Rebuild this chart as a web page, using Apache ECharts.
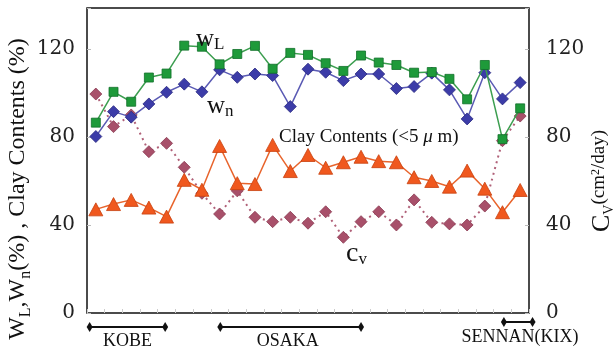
<!DOCTYPE html>
<html><head><meta charset="utf-8">
<script src="https://cdn.jsdelivr.net/npm/echarts/dist/echarts.min.js"></script>
<style>html,body{margin:0;padding:0;background:#fff}#c{width:614px;height:351px}</style>
</head><body><div id="c"></div>
<script>
const categories = ['1','2','3','4','5','6','7','8','9','10','11','12','13','14','15','16','17','18','19','20','21','22','23','24','25'];
const wL = [86.5,100.5,96,107,108.8,121.5,121,113,117.7,121.4,111,118.2,117.3,113.5,110,117,113.8,112.7,109.2,109.5,106.4,97.1,112.7,79,93];
const wn = [80.2,91.5,89,95,100.3,104,100.5,110.5,107.1,108.6,107.9,93.8,110.8,109.4,105.6,108.6,108.6,102,102.9,109,101.4,88.2,109.2,97.3,104.7];
const clay = [47.1,49.5,51.4,47.9,43.8,60.5,56,75.9,59,58.6,76.4,64.5,71.8,66,68.5,71,69,68.5,61.7,60,57.4,64.7,56.5,45.8,55.9];
const cv = [99.5,84.7,90,73.3,77.1,66.2,54.4,45,55.5,43.5,41.5,43.5,40.8,46,34.4,41.5,46,40,51.4,41.2,40.5,40,48.6,78.3,89.5];
const yTicks = [0,40,80,120];
const regions = [
  {name:'KOBE', from:0, to:4},
  {name:'OSAKA', from:7, to:15},
  {name:'SENNAN(KIX)', from:23, to:24}
];

const FONT = '"Liberation Serif", "DejaVu Serif", serif';
const TICKFONT = '"DejaVu Serif", serif';
const chart = echarts.init(document.getElementById('c'));
const yAxisBase = {
  type:'value', min:0, max:138.6, interval:40,
  axisLine:{show:false},
  splitLine:{show:false},
  axisTick:{show:true, inside:true, length:4, lineStyle:{color:'#bbb'}},
  axisLabel:{fontFamily:TICKFONT, fontSize:20, color:'#222',
    formatter:v => yTicks.indexOf(Math.round(v*10)/10) >= 0 ? String(v) : ''}
};
const common = {type:'line', showSymbol:true, showAllSymbol:true, animation:false};
chart.setOption({
  animation:false,
  grid:{left:87, right:85, top:8, bottom:38, show:true, borderColor:'#111', borderWidth:1.5, backgroundColor:'transparent'},
  xAxis:{type:'category', data:categories, boundaryGap:true,
    axisLine:{show:false}, axisLabel:{show:false},
    axisTick:{show:true, inside:true, length:4, lineStyle:{color:'#ccc'}}},
  yAxis:[
    Object.assign({}, yAxisBase, {position:'left', axisLabel:Object.assign({}, yAxisBase.axisLabel, {margin:12})}),
    Object.assign({}, yAxisBase, {position:'right', axisLabel:Object.assign({}, yAxisBase.axisLabel, {margin:17})})
  ],
  series:[
    Object.assign({}, common, {name:'cv', yAxisIndex:1, data:cv, symbol:'diamond', symbolSize:12, z:2,
     lineStyle:{color:'#b06078', width:2, type:[2,4]},
     itemStyle:{color:'#a8506a', borderColor:'#8a3a52', borderWidth:0.8}}),
    Object.assign({}, common, {name:'clay', yAxisIndex:0, data:clay, symbol:'triangle', symbolSize:[14,13], z:3,
     lineStyle:{color:'#e8642c', width:1.5},
     itemStyle:{color:'#f0581e', borderColor:'#c8400e', borderWidth:0.8}}),
    Object.assign({}, common, {name:'wn', yAxisIndex:0, data:wn, symbol:'diamond', symbolSize:12, z:4,
     lineStyle:{color:'#5a5ab4', width:1.5},
     itemStyle:{color:'#3c3ca8', borderColor:'#2a2a80', borderWidth:0.8}}),
    Object.assign({}, common, {name:'wL', yAxisIndex:0, data:wL, symbol:'rect', symbolSize:9, z:5,
     lineStyle:{color:'#3c9e50', width:1.5},
     itemStyle:{color:'#1e9a3a', borderColor:'#10702a', borderWidth:0.8}})
  ]
});

const px = i => chart.convertToPixel({xAxisIndex:0}, i);
const step = px(1) - px(0);
const graphics = [];
function arrow(x1, x2, y){
  graphics.push({type:'line', shape:{x1:x1, y1:y, x2:x2, y2:y}, style:{stroke:'#111', lineWidth:2}, z:10});
  [x1, x2].forEach(x => graphics.push({type:'polygon', shape:{points:[[x,y-5],[x+3,y],[x,y+5],[x-3,y]]}, style:{fill:'#111'}, z:10}));
}
const ak = px(regions[0].from) - 0.35*step, bk = px(regions[0].to) - 0.08*step;
arrow(ak, bk, 327);
graphics.push({type:'text', x:(ak+bk)/2, y:341, style:{text:regions[0].name, font:'18px '+FONT, fill:'#111', align:'center', verticalAlign:'middle'}});
const ao = px(regions[1].from) + 0.04*step, bo = px(regions[1].to);
arrow(ao, bo, 327);
graphics.push({type:'text', x:(ao+bo)/2 - 3, y:341, style:{text:regions[1].name, font:'18px '+FONT, fill:'#111', align:'center', verticalAlign:'middle'}});
const as = px(regions[2].from) + 0.08*step, bs = px(regions[2].to) + 0.7*step;
arrow(as, bs, 322);
graphics.push({type:'text', x:520, y:337, style:{text:regions[2].name, font:'18px '+FONT, fill:'#111', align:'center', verticalAlign:'middle'}});

// axis titles
graphics.push({type:'text', x:20, y:189, rotation:Math.PI/2, z:10, style:{
  text:'{m|W}{s|L}{m|,W}{s|n}{m|(%) , Clay Contents (%)}',
  align:'center', verticalAlign:'middle',
  rich:{m:{fontFamily:FONT, fontSize:24, lineHeight:28, verticalAlign:'top', fill:'#111'},
        s:{fontFamily:FONT, fontSize:16, lineHeight:16, verticalAlign:'bottom', fill:'#111'}}}});
graphics.push({type:'text', x:603, y:181, rotation:Math.PI/2, z:10, style:{
  text:'{c|C}{s|V}{m|(cm}{p|2}{m|/day)}',
  align:'center', verticalAlign:'middle',
  rich:{c:{fontFamily:FONT, fontSize:26, lineHeight:27, verticalAlign:'top', fill:'#111'},
        m:{fontFamily:FONT, fontSize:19, lineHeight:27, verticalAlign:'top', fill:'#111'},
        s:{fontFamily:FONT, fontSize:14, lineHeight:14, verticalAlign:'bottom', fill:'#111'},
        p:{fontFamily:FONT, fontSize:12, lineHeight:12, verticalAlign:'top', fill:'#111'}}}});
// series labels
graphics.push({type:'text', x:196, y:40, z:10, style:{text:'{w|w}{s|L}', align:'left', verticalAlign:'middle',
  rich:{w:{fontFamily:FONT, fontSize:25, lineHeight:26, verticalAlign:'top', fill:'#111'},
        s:{fontFamily:FONT, fontSize:17, lineHeight:17, verticalAlign:'bottom', fill:'#111'}}}});
graphics.push({type:'text', x:207, y:107, z:10, style:{text:'{w|w}{s|n}', align:'left', verticalAlign:'middle',
  rich:{w:{fontFamily:FONT, fontSize:25, lineHeight:26, verticalAlign:'top', fill:'#111'},
        s:{fontFamily:FONT, fontSize:17, lineHeight:17, verticalAlign:'bottom', fill:'#111'}}}});
graphics.push({type:'text', x:279, y:137, z:10, style:{text:'{m|Clay Contents (<5 }{i|μ}{m| m)}', align:'left', verticalAlign:'middle',
  rich:{m:{fontFamily:FONT, fontSize:19, fill:'#111'}, i:{fontFamily:FONT, fontSize:19, fontStyle:'italic', fill:'#111'}}}});
graphics.push({type:'text', x:346, y:254, z:10, style:{text:'{w|c}{s|v}', align:'left', verticalAlign:'middle',
  rich:{w:{fontFamily:FONT, fontSize:28, lineHeight:28, verticalAlign:'top', fill:'#111'},
        s:{fontFamily:FONT, fontSize:17, lineHeight:17, verticalAlign:'bottom', fill:'#111'}}}});
chart.setOption({graphic:graphics});
</script>
</body></html>
